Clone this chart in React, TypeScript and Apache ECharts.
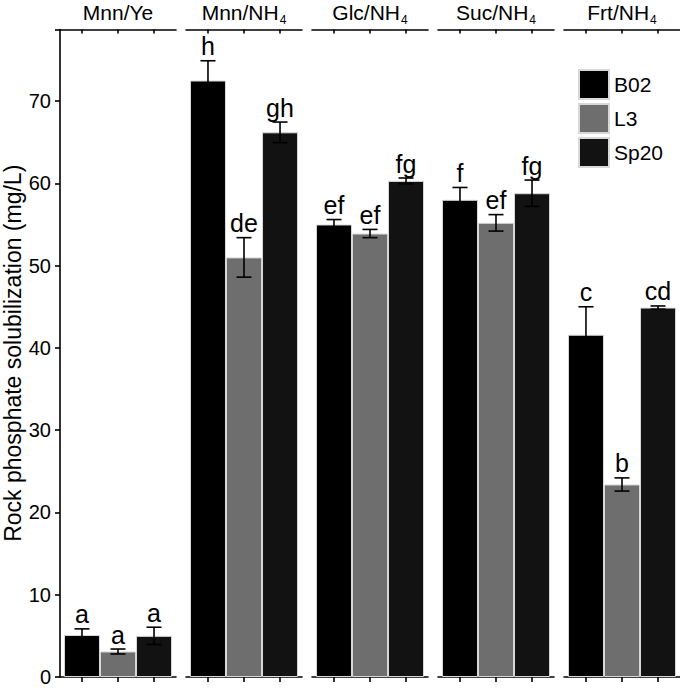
import React, { useEffect, useRef } from "react";
import * as echarts from "echarts";

const panels = ["Mnn/Ye", "Mnn/NH4", "Glc/NH4", "Suc/NH4", "Frt/NH4"];
const strains = ["B02", "L3", "Sp20"];
const b02Mean = [5.1, 72.5, 55.0, 58.0, 41.6];
const l3Mean = [3.1, 51.0, 53.9, 55.2, 23.4];
const sp20Mean = [5.0, 66.2, 60.3, 58.8, 44.9];
const b02Err = [0.75, 2.4, 0.6, 1.5, 3.4];
const l3Err = [0.3, 2.4, 0.5, 1.0, 0.8];
const sp20Err = [1.05, 1.25, 0.35, 1.6, 0.2];
const b02Letters = ["a", "h", "ef", "f", "c"];
const l3Letters = ["a", "de", "ef", "ef", "b"];
const sp20Letters = ["a", "gh", "fg", "fg", "cd"];
const yTicks = [0, 10, 20, 30, 40, 50, 60, 70];

const FONT = "'Liberation Sans', Arial, Helvetica, sans-serif";
const colors = ["#000000", "#6e6e6e", "#121212"];
const means = [b02Mean, l3Mean, sp20Mean];
const errs = [b02Err, l3Err, sp20Err];
const letters = [b02Letters, l3Letters, sp20Letters];

function stripLabel(p: string) {
  if (p.endsWith("NH4")) return "{n|" + p.slice(0, -1) + "}{s|4}";
  return "{n|" + p + "}";
}

export default function App() {
  const ref = useRef<HTMLDivElement>(null);
  useEffect(() => {
    if (!ref.current) return;
    const chart = echarts.init(ref.current, undefined, { renderer: "svg" });
    const grids: any[] = [];
    const xAxes: any[] = [];
    const yAxes: any[] = [];
    const series: any[] = [];
    const xMin = -0.61;
    const xMax = 2.61;
    const yMax = 78.7;
    panels.forEach((p, i) => {
      grids.push({ left: 60 + 126 * i, width: 116, top: 29.5, bottom: 11, containLabel: false, outerBoundsMode: "none" });
      xAxes.push({
        type: "value",
        gridIndex: i,
        position: "bottom",
        min: xMin,
        max: xMax,
        splitLine: { show: false },
        axisLabel: { show: false },
        axisLine: { show: true, onZero: false, lineStyle: { color: "#000", width: 1.6 } },
        axisTick: { show: true, customValues: [0, 1, 2], length: 5, lineStyle: { color: "#000", width: 1.6 } },
      });
      xAxes.push({
        type: "value",
        gridIndex: i,
        position: "top",
        min: xMin,
        max: xMax,
        splitLine: { show: false },
        axisLabel: { show: false },
        axisLine: { show: true, onZero: false, lineStyle: { color: "#000", width: 1.6 } },
        axisTick: { show: true, inside: true, customValues: [0, 1, 2], length: 4, lineStyle: { color: "#000", width: 1.6 } },
        name: stripLabel(p),
        nameLocation: "middle",
        nameGap: 7,
        nameTextStyle: {
          color: "#000",
          fontSize: 21,
          fontFamily: FONT,
          rich: {
            n: { fontSize: 21, color: "#000", fontFamily: FONT },
            s: { fontSize: 12, color: "#000", fontFamily: FONT, verticalAlign: "bottom", padding: [0, 0, -3, 1] },
          },
        },
      });
      yAxes.push(
        i === 0
          ? {
              type: "value",
              gridIndex: i,
              min: 0,
              max: yMax,
              interval: 10,
              splitLine: { show: false },
              axisLine: { show: true, onZero: false, lineStyle: { color: "#000", width: 1.6 } },
              axisTick: { show: true, length: 5, lineStyle: { color: "#000", width: 1.6 } },
              axisLabel: {
                color: "#000",
                fontSize: 20,
                fontFamily: FONT,
                margin: 9,
                customValues: yTicks,
              },
              name: "Rock phosphate solubilization (mg/L)",
              nameLocation: "middle",
              nameGap: 36,
              nameTextStyle: { color: "#000", fontSize: 23, fontFamily: FONT },
            }
          : { type: "value", gridIndex: i, min: 0, max: yMax, show: false, axisLine: { onZero: false }, splitLine: { show: false } }
      );
      strains.forEach((s, k) => {
        series.push({
          type: "bar",
          name: s,
          xAxisIndex: 2 * i,
          yAxisIndex: i,
          barWidth: 36,
          barGap: "-100%",
          data: [[k, means[k][i]]],
          itemStyle: { color: colors[k], borderColor: "#d8d8d8", borderWidth: 1 },
          z: 2,
        });
      });
      const errData = strains.map((s, k) => [k, means[k][i] - errs[k][i], means[k][i] + errs[k][i]]);
      series.push({
        type: "custom",
        xAxisIndex: 2 * i,
        yAxisIndex: i,
        data: errData,
        encode: { x: 0, y: [1, 2] },
        z: 5,
        renderItem: (params: any, api: any) => {
          const x = api.value(0);
          const lo = api.value(1);
          const hi = api.value(2);
          const pl = api.coord([x, lo]);
          const ph = api.coord([x, hi]);
          const hw = 7.5;
          const st = { stroke: "#000", lineWidth: 1.6 };
          return {
            type: "group",
            children: [
              { type: "line", shape: { x1: pl[0], y1: pl[1], x2: ph[0], y2: ph[1] }, style: st },
              { type: "line", shape: { x1: ph[0] - hw, y1: ph[1], x2: ph[0] + hw, y2: ph[1] }, style: st },
              { type: "line", shape: { x1: pl[0] - hw, y1: pl[1], x2: pl[0] + hw, y2: pl[1] }, style: st },
              {
                type: "text",
                x: ph[0],
                y: ph[1] - 2,
                style: {
                  text: letters[params.dataIndex][i],
                  fontSize: 25,
                  fontFamily: FONT,
                  fill: "#000",
                  align: "center",
                  verticalAlign: "bottom",
                },
              },
            ],
          };
        },
      });
    });
    chart.setOption({
      animation: false,
      backgroundColor: "#fff",
      grid: grids,
      xAxis: xAxes,
      yAxis: yAxes,
      legend: {
        data: strains,
        orient: "vertical",
        left: 578,
        top: 69,
        padding: 0,
        itemWidth: 30,
        itemHeight: 29,
        itemGap: 3,
        icon: "rect",
        selectedMode: false,
        textStyle: { fontSize: 21, color: "#000", fontFamily: FONT },
      },
      series,
    });
    return () => chart.dispose();
  }, []);
  return <div ref={ref} style={{ position: "fixed", left: 0, top: 0, width: 680, height: 688 }} />;
}
